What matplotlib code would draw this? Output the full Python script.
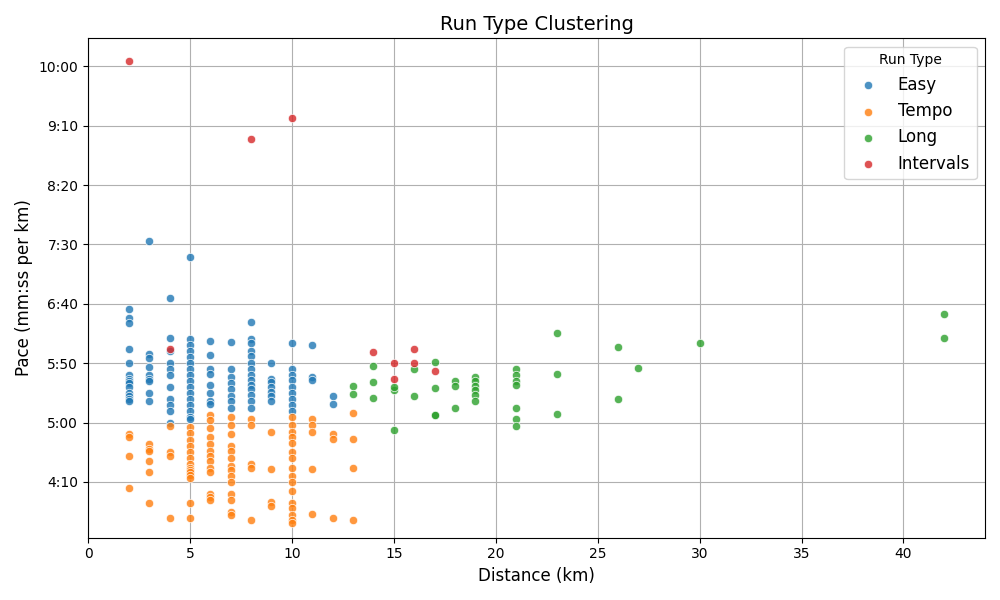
import matplotlib
matplotlib.use("Agg")
import matplotlib.pyplot as plt
from matplotlib.ticker import FuncFormatter

run_types = ["Easy", "Tempo", "Long", "Intervals"]
colors = ["#1f77b4", "#ff7f0e", "#2ca02c", "#d62728"]

easy = {
    2: [396,388,384,362,350,340,337,335,333,330,325,322,320,318],
    3: [453,358,354,347,340,337,335,325,318],
    4: [405,371,360,350,345,340,330,320,315,310,300],
    5: [439,370,365,360,355,350,345,340,335,330,325,320,315,310,305,303],
    6: [369,357,345,341,332,325,318,316],
    7: [368,345,338,333,328,322,318,312],
    8: [385,370,367,360,356,350,345,340,336,332,328,323,318,312],
    9: [350,337,334,330,326,322,318],
    10: [367,345,340,336,330,325,320,315,310],
    11: [365,338,336],
    12: [322,316],
}
tempo = {
    2: [290,288,272,245],
    3: [282,278,276,268,258,232],
    4: [297,275,272,220],
    5: [296,291,285,280,275,270,265,262,260,258,256,253,232,220],
    6: [306,302,295,288,282,276,272,268,262,258,240,237,235],
    7: [305,298,290,280,276,270,263,260,255,250,240,235,225,222],
    8: [303,298,265,262,218],
    9: [292,261,233,230],
    10: [305,298,292,288,283,275,270,262,255,250,242,232,228,222,218,215],
    11: [303,298,292,261,223],
    12: [290,286,220],
    13: [308,286,262,218],
}
long_runs = {
    13: [331,324], 14: [348,334,321], 15: [327,330,294], 16: [345,322],
    17: [351,329,306,306], 18: [335,331,312], 19: [338,335,331,327,323,318],
    21: [345,340,335,332,312,303,297], 23: [375,341,307], 26: [364,320],
    27: [346], 30: [367], 42: [391,371],
}
intervals = {
    2: [604], 4: [362], 8: [539], 10: [556], 14: [359],
    15: [350,337], 16: [362,350], 17: [343],
}
series = [easy, tempo, long_runs, intervals]

fig, ax = plt.subplots(figsize=(10, 6), dpi=100)
for name, col, d in zip(run_types, colors, series):
    xs = [k for k, v in d.items() for _ in v]
    ys = [p for v in d.values() for p in v]
    ax.scatter(xs, ys, s=36, c=col, alpha=0.8, edgecolors="white", linewidths=0.6, label=name, zorder=3)

ax.set_xlim(0, 44)
ax.set_ylim(203, 623.5)
ax.set_yticks([250, 300, 350, 400, 450, 500, 550, 600])
ax.yaxis.set_major_formatter(FuncFormatter(lambda v, p: f"{int(v)//60}:{int(v)%60:02d}"))
ax.set_xticks(range(0, 45, 5))
ax.grid(True, color="#b0b0b0", zorder=0)
ax.set_axisbelow(True)
ax.set_title("Run Type Clustering", fontsize=14)
ax.set_xlabel("Distance (km)", fontsize=12)
ax.set_ylabel("Pace (mm:ss per km)", fontsize=12)
ax.legend(title="Run Type", fontsize=12, title_fontsize=10, loc="upper right")
fig.tight_layout()
fig.savefig("out.png")
